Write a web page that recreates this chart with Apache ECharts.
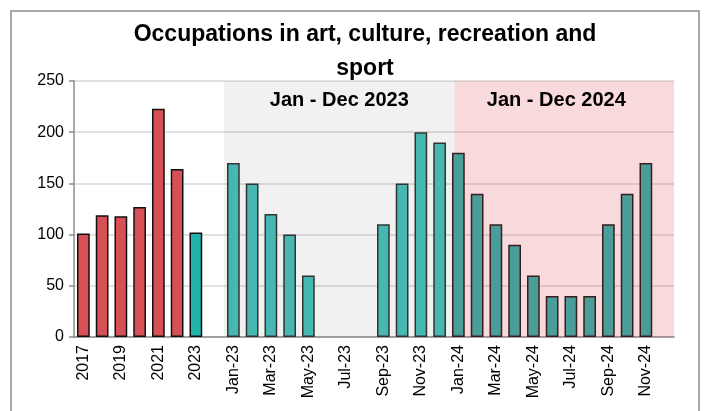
<!DOCTYPE html>
<html>
<head>
<meta charset="utf-8">
<script src="https://cdn.jsdelivr.net/npm/echarts@6/dist/echarts.min.js"></script>
<style>
  html, body { margin: 0; padding: 0; background: #fff; }
  #chart { width: 707px; height: 411px; }
</style>
</head>
<body>
<div id="chart"></div>
<script>
// annual totals
const years = ['2017', '2018', '2019', '2020', '2021', '2022', '2023'];
const yearValues = [101, 119, 118, 127, 223, 164, 102];

// monthly, 2023 and 2024 (null = no bar)
const months2023 = ['Jan-23', 'Feb-23', 'Mar-23', 'Apr-23', 'May-23', 'Jun-23',
  'Jul-23', 'Aug-23', 'Sep-23', 'Oct-23', 'Nov-23', 'Dec-23'];
const values2023 = [170, 150, 120, 100, 60, null, null, null, 110, 150, 200, 190];
const months2024 = ['Jan-24', 'Feb-24', 'Mar-24', 'Apr-24', 'May-24', 'Jun-24',
  'Jul-24', 'Aug-24', 'Sep-24', 'Oct-24', 'Nov-24', 'Dec-24'];
const values2024 = [180, 140, 110, 90, 60, 40, 40, 40, 110, 140, 170, null];

const yTicks = [0, 50, 100, 150, 200, 250];

const font = 'Liberation Sans';
const categories = [...years, '', ...months2023, ...months2024];
const nCat = categories.length;

const pad = (n) => new Array(n).fill(null);

const annualData = yearValues.map((v, i) => i === years.length - 1
  ? { value: v, itemStyle: { color: '#22b3aa', borderColor: '#111' } }
  : v);

const option = {
  backgroundColor: '#fff',
  animation: false,
  title: {
    text: 'Occupations in art, culture, recreation and\nsport',
    left: 360,
    textAlign: 'center',
    top: 13,
    textStyle: { fontFamily: font, fontSize: 23, fontWeight: 'bold', color: '#000', lineHeight: 34 }
  },
  graphic: [{
    type: 'rect',
    shape: { x: 11, y: 11, width: 688, height: 430 },
    style: { fill: null, stroke: '#8c8c8c', lineWidth: 1.5 },
    z: -10
  }],
  grid: { left: 74, right: 33, top: 81, bottom: 74 },
  xAxis: [{
    type: 'category',
    data: categories,
    axisLine: { lineStyle: { color: '#8c8c8c', width: 1.5 } },
    axisTick: { interval: 0, length: 5, lineStyle: { color: '#8c8c8c', width: 1.5 } },
    axisLabel: { interval: 1, rotate: 90, fontFamily: font, fontSize: 16, color: '#000', margin: 8 }
  }, {
    type: 'value',
    min: 0,
    max: nCat,
    show: false
  }],
  yAxis: {
    type: 'value',
    min: yTicks[0],
    max: yTicks[yTicks.length - 1],
    interval: yTicks[1] - yTicks[0],
    axisLine: { show: true, lineStyle: { color: '#8c8c8c', width: 1.5 } },
    axisTick: { show: true, length: 5, lineStyle: { color: '#8c8c8c', width: 1.5 } },
    axisLabel: { fontFamily: font, fontSize: 16, color: '#000', margin: 10 },
    splitLine: { lineStyle: { color: '#d9d9d9', width: 1.5 } }
  },
  series: [
    {
      // shaded period bands
      type: 'line',
      xAxisIndex: 1,
      data: [],
      silent: true,
      z: -1,
      markArea: {
        silent: true,
        label: {
          position: 'insideTop',
          distance: 9,
          fontFamily: font,
          fontSize: 20,
          fontWeight: 'bold',
          color: '#000'
        },
        data: [
          [{ xAxis: years.length + 1, name: 'Jan - Dec 2023', itemStyle: { color: 'rgba(0,0,0,0.055)' } },
           { xAxis: years.length + 1 + 12.3 }],
          [{ xAxis: years.length + 1 + 12.3, name: 'Jan - Dec 2024', itemStyle: { color: 'rgba(222,70,80,0.2)' },
             label: { offset: [-8, 0] } },
           { xAxis: nCat }]
        ]
      }
    },
    {
      name: 'Annual',
      type: 'bar',
      stack: 'all',
      barCategoryGap: '32%',
      data: [...annualData, ...pad(nCat - years.length)],
      itemStyle: { color: '#d75055', borderColor: '#111', borderWidth: 1.5 }
    },
    {
      name: '2023',
      type: 'bar',
      stack: 'all',
      data: [...pad(years.length + 1), ...values2023, ...pad(months2024.length)],
      itemStyle: { color: '#47b7b2', borderColor: '#333', borderWidth: 1.5 }
    },
    {
      name: '2024',
      type: 'bar',
      stack: 'all',
      data: [...pad(years.length + 1 + months2023.length), ...values2024],
      itemStyle: { color: '#4a9e9a', borderColor: '#3b1c1c', borderWidth: 1.5 }
    }
  ]
};

const chart = echarts.init(document.getElementById('chart'));
chart.setOption(option);
</script>
</body>
</html>
